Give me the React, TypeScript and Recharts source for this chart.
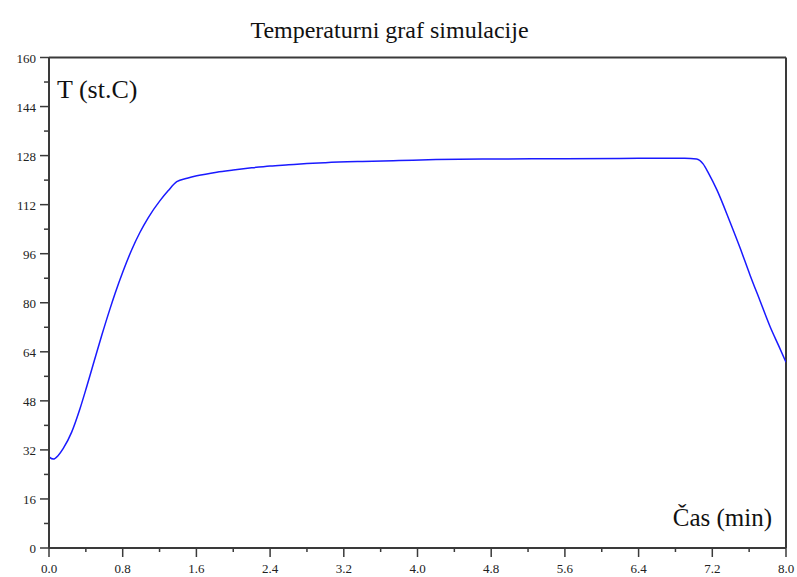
import React from 'react';
import { LineChart, Line, XAxis, YAxis, ReferenceLine } from 'recharts';

const timeMin = [
  0, 0.047, 0.1, 0.155, 0.246, 0.337, 0.409, 0.481, 0.572, 0.662, 0.717, 0.807, 0.898, 0.988,
  1.078, 1.205, 1.295, 1.387, 1.5, 1.604, 1.821, 2.0, 2.2, 2.4, 2.6, 2.8, 3.0, 3.4, 3.8, 4.2,
  4.8, 5.6, 6.4, 6.9, 7.03, 7.1, 7.16, 7.25, 7.39, 7.5, 7.61, 7.72, 7.83, 7.92, 8.0,
];
const tempC = [
  29.7, 29.0, 30.2, 32.5, 37.8, 45.5, 52.6, 60.0, 69.3, 78.0, 83.0, 90.5, 97.3, 103.0,
  107.8, 113.3, 116.6, 119.5, 120.6, 121.4, 122.6, 123.3, 124.0, 124.6, 125.0, 125.4, 125.7,
  126.1, 126.4, 126.7, 126.9, 127.0, 127.1, 127.1, 126.9, 125.3, 122.2, 116.8, 106.5, 98.0,
  89.0, 80.5, 72.0, 66.0, 60.6,
];

const xMajorTicks = [0, 0.8, 1.6, 2.4, 3.2, 4.0, 4.8, 5.6, 6.4, 7.2, 8.0];
const xMinorTicks = [0.4, 1.2, 2.0, 2.8, 3.6, 4.4, 5.2, 6.0, 6.8, 7.6];
const yMajorTicks = [0, 16, 32, 48, 64, 80, 96, 112, 128, 144, 160];
const yMinorTicks = [8, 24, 40, 56, 72, 88, 104, 120, 136, 152];

const chartTitle = 'Temperaturni graf simulacije';
const yLabel = 'T (st.C)';
const xLabel = 'Čas (min)';

const data = timeMin.map((t, i) => ({ t, temp: tempC[i] }));

const axisColor = '#3a3a3a';
const serif = '"Liberation Serif", serif';

const XTick = (props: any) => {
  const { x, y, payload } = props;
  const major = xMajorTicks.includes(payload.value);
  return (
    <g>
      <line x1={x} x2={x} y1={y} y2={y + (major ? 9 : 4)} stroke={axisColor} strokeWidth={1.5} />
      {major && (
        <text x={x} y={y + 25} textAnchor="middle" fontSize={13} fontFamily={serif} fill="#222">
          {payload.value.toFixed(1)}
        </text>
      )}
    </g>
  );
};

const YTick = (props: any) => {
  const { x, y, payload } = props;
  const major = yMajorTicks.includes(payload.value);
  return (
    <g>
      <line x1={x - (major ? 9 : 5)} x2={x} y1={y} y2={y} stroke={axisColor} strokeWidth={1.5} />
      {major && (
        <text x={x - 13} y={y + 5} textAnchor="end" fontSize={13} fontFamily={serif} fill="#222">
          {payload.value}
        </text>
      )}
    </g>
  );
};

export default function App() {
  return (
    <div style={{ position: 'absolute', left: 0, top: 0, width: 797, height: 577, background: '#fff' }}>
      <LineChart
        width={797}
        height={577}
        data={data}
        margin={{ top: 57.5, right: 11, bottom: 0, left: 0 }}
      >
        <XAxis
          dataKey="t"
          type="number"
          domain={[0, 8]}
          ticks={[...xMajorTicks, ...xMinorTicks].sort((a, b) => a - b)}
          interval={0}
          height={29}
          tickSize={0}
          tickMargin={0}
          tickLine={false}
          tick={<XTick />}
          axisLine={{ stroke: axisColor, strokeWidth: 2 }}
          allowDataOverflow
        />
        <YAxis
          type="number"
          domain={[0, 160]}
          ticks={[...yMajorTicks, ...yMinorTicks].sort((a, b) => a - b)}
          interval={0}
          width={49}
          tickSize={0}
          tickMargin={0}
          tickLine={false}
          tick={<YTick />}
          axisLine={{ stroke: axisColor, strokeWidth: 2 }}
          allowDataOverflow
        />
        <ReferenceLine y={160} stroke={axisColor} strokeWidth={2} />
        <ReferenceLine x={8} stroke={axisColor} strokeWidth={2} />
        <Line
          type="monotone"
          dataKey="temp"
          stroke="#1a1aff"
          strokeWidth={1.5}
          dot={false}
          isAnimationActive={false}
        />
      </LineChart>
      <div
        style={{
          position: 'absolute', left: 0, width: 779, top: 17.5, textAlign: 'center',
          fontFamily: serif, fontSize: 24, lineHeight: '24px', color: '#111',
        }}
      >
        {chartTitle}
      </div>
      <div
        style={{
          position: 'absolute', left: 57, top: 77, fontFamily: serif, fontSize: 26,
          lineHeight: '26px', color: '#111', whiteSpace: 'nowrap',
        }}
      >
        {yLabel}
      </div>
      <div
        style={{
          position: 'absolute', right: 25, top: 505, fontFamily: serif, fontSize: 25,
          lineHeight: '25px', color: '#111', whiteSpace: 'nowrap',
        }}
      >
        {xLabel}
      </div>
    </div>
  );
}
